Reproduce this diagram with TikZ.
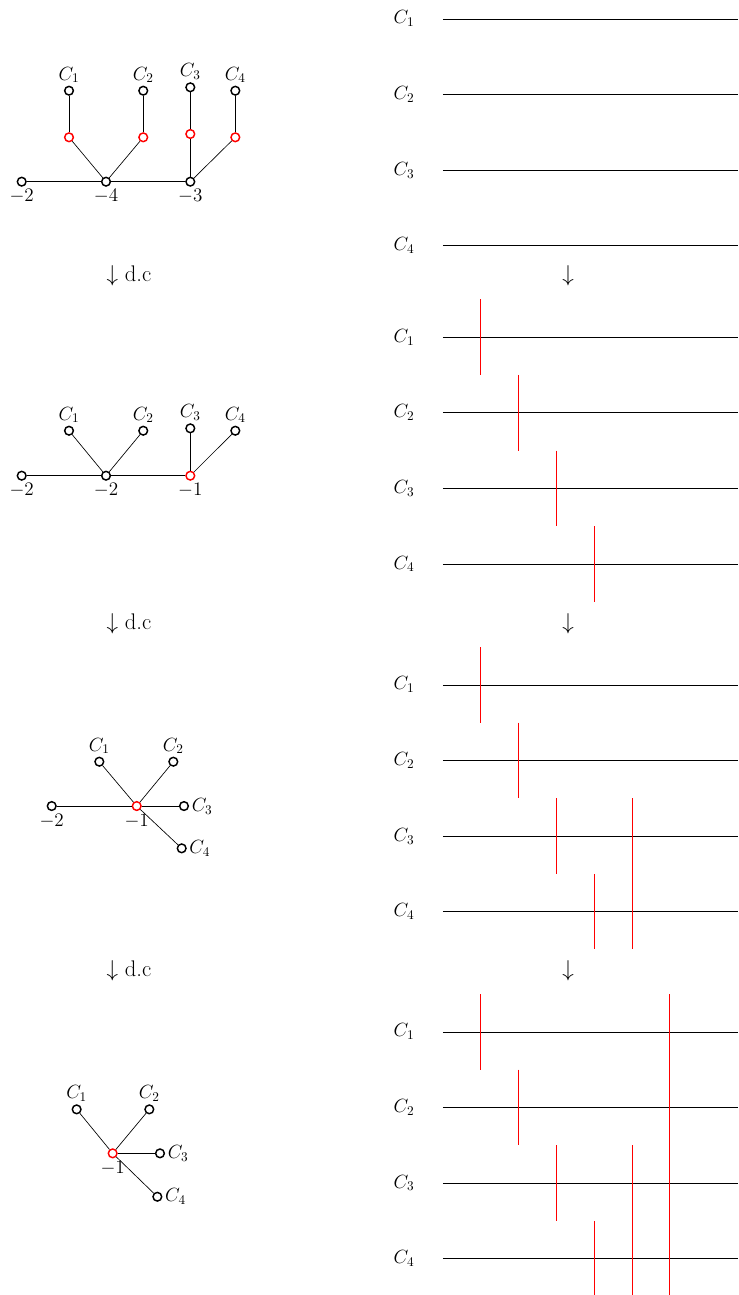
\documentclass[tikz,border=0pt]{standalone}
\usetikzlibrary{positioning}
\begin{document}
\begin{tikzpicture}[
  vtx/.style={circle, draw=black, fill=white, line width=1.1pt, inner sep=0pt, minimum size=2.3mm},
  rvtx/.style={vtx, draw=red},
  lab/.style={inner sep=1pt, font=\fontsize{14}{16}\selectfont},
  edge/.style={line width=0.5pt},
  strand/.style={line width=0.5pt},
  cut/.style={red, line width=0.5pt},
  stepnote/.style={inner sep=1pt, font=\fontsize{17}{20}\selectfont},
]
\useasboundingbox (0,0) rectangle (19.526,-34.263);

% ---------------- Left panel 1 ----------------
\node[vtx] (a1) at (0.574,-4.807) {};
\node[vtx] (a2) at (2.805,-4.807) {};
\node[vtx] (a3) at (5.035,-4.807) {};
\node[rvtx] (r1) at (1.826,-3.633) {};
\node[rvtx] (r2) at (3.79,-3.633) {};
\node[rvtx] (r3) at (5.035,-3.545) {};
\node[rvtx] (r4) at (6.226,-3.633) {};
\node[vtx] (t1) at (1.826,-2.40) {};
\node[vtx] (t2) at (3.79,-2.40) {};
\node[vtx] (t3) at (5.035,-2.31) {};
\node[vtx] (t4) at (6.226,-2.40) {};
\draw[edge] (a1) -- (a2);
\draw[edge] (a2) -- (a3);
\draw[edge] (a2) -- (r1);
\draw[edge] (a2) -- (r2);
\draw[edge] (a3) -- (r3);
\draw[edge] (a3) -- (r4);
\draw[edge] (r1) -- (t1);
\draw[edge] (r2) -- (t2);
\draw[edge] (r3) -- (t3);
\draw[edge] (r4) -- (t4);
\node[lab, above=0.3mm of t1] (lt1) {$C_1$};
\node[lab, above=0.3mm of t2] (lt2) {$C_2$};
\node[lab, above=0.3mm of t3] (lt3) {$C_3$};
\node[lab, above=0.3mm of t4] (lt4) {$C_4$};
\node[lab, below=0.3mm of a1] (la1) {$-2$};
\node[lab, below=0.3mm of a2] (la2) {$-4$};
\node[lab, below=0.3mm of a3] (la3) {$-3$};

\node[stepnote] (s1) at (3.41,-7.30) {$\downarrow$ d.c};

% ---------------- Left panel 2 ----------------
\node[vtx] (b1) at (0.574,-12.586) {};
\node[vtx] (b2) at (2.805,-12.586) {};
\node[rvtx] (b3) at (5.035,-12.586) {};
\node[vtx] (u1) at (1.826,-11.396) {};
\node[vtx] (u2) at (3.79,-11.396) {};
\node[vtx] (u3) at (5.035,-11.333) {};
\node[vtx] (u4) at (6.226,-11.396) {};
\draw[edge] (b1) -- (b2);
\draw[edge] (b2) -- (b3);
\draw[edge] (b2) -- (u1);
\draw[edge] (b2) -- (u2);
\draw[edge] (b3) -- (u3);
\draw[edge] (b3) -- (u4);
\node[lab, above=0.3mm of u1] (lu1) {$C_1$};
\node[lab, above=0.3mm of u2] (lu2) {$C_2$};
\node[lab, above=0.3mm of u3] (lu3) {$C_3$};
\node[lab, above=0.3mm of u4] (lu4) {$C_4$};
\node[lab, below=0.3mm of b1] (lb1) {$-2$};
\node[lab, below=0.3mm of b2] (lb2) {$-2$};
\node[lab, below=0.3mm of b3] (lb3) {$-1$};

\node[stepnote] (s2) at (3.41,-16.51) {$\downarrow$ d.c};

% ---------------- Left panel 3 ----------------
\node[rvtx] (c0) at (3.617,-21.326) {};
\node[vtx] (cl) at (1.368,-21.326) {};
\node[vtx] (c1) at (2.628,-20.153) {};
\node[vtx] (c2) at (4.586,-20.153) {};
\node[vtx] (c3) at (4.868,-21.326) {};
\node[vtx] (c4) at (4.807,-22.445) {};
\draw[edge] (cl) -- (c0);
\draw[edge] (c0) -- (c1);
\draw[edge] (c0) -- (c2);
\draw[edge] (c0) -- (c3);
\draw[edge] (c0) -- (c4);
\node[lab, above=0.3mm of c1] (lc1) {$C_1$};
\node[lab, above=0.3mm of c2] (lc2) {$C_2$};
\node[lab, right=0.3mm of c3] (lc3) {$C_3$};
\node[lab, right=0.3mm of c4] (lc4) {$C_4$};
\node[lab, below=0.3mm of cl] (lcl) {$-2$};
\node[lab, below=0.3mm of c0] (lc0) {$-1$};

\node[stepnote] (s3) at (3.41,-25.69) {$\downarrow$ d.c};

% ---------------- Left panel 4 ----------------
\node[rvtx] (d0) at (2.981,-30.515) {};
\node[vtx] (d1) at (2.028,-29.351) {};
\node[vtx] (d2) at (3.951,-29.351) {};
\node[vtx] (d3) at (4.233,-30.515) {};
\node[vtx] (d4) at (4.163,-31.663) {};
\draw[edge] (d0) -- (d1);
\draw[edge] (d0) -- (d2);
\draw[edge] (d0) -- (d3);
\draw[edge] (d0) -- (d4);
\node[lab, above=0.3mm of d1] (ld1) {$C_1$};
\node[lab, above=0.3mm of d2] (ld2) {$C_2$};
\node[lab, right=0.3mm of d3] (ld3) {$C_3$};
\node[lab, right=0.3mm of d4] (ld4) {$C_4$};
\node[lab, below=0.3mm of d0] (ld0) {$-1$};

% ---------------- Right side: strands ----------------
\foreach \p/\y in {1/-0.5, 2/-8.92, 3/-18.12, 4/-27.30} {
  \foreach \i in {1,...,4} {
    \node[lab] (L\p\i) at (10.69,{\y-2*(\i-1)}) {$C_{\i}$};
    \coordinate (A\p\i) at (11.72,{\y-2*(\i-1)});
    \coordinate (B\p\i) at (19.526,{\y-2*(\i-1)});
    \draw[strand] (A\p\i) -- (B\p\i);
  }
}
\foreach \p/\y in {2/-8.92, 3/-18.12, 4/-27.30} {
  \foreach \i in {1,...,4} {
    \draw[cut] ({12.72+(\i-1)},{\y-2*(\i-1)+1}) -- ({12.72+(\i-1)},{\y-2*(\i-1)-1});
  }
}
% panel 3 extra
\draw[cut] (16.72,-18.12-3) -- (16.72,-18.12-7);
% panel 4 extras
\draw[cut] (16.72,-27.30-3) -- (16.72,-27.30-7);
\draw[cut] (17.72,-27.30+1) -- (17.72,-27.30-7);

\node[stepnote] (r1a) at (15.03,-7.30) {$\downarrow$};
\node[stepnote] (r2a) at (15.03,-16.51) {$\downarrow$};
\node[stepnote] (r3a) at (15.03,-25.69) {$\downarrow$};
\end{tikzpicture}
\end{document}
